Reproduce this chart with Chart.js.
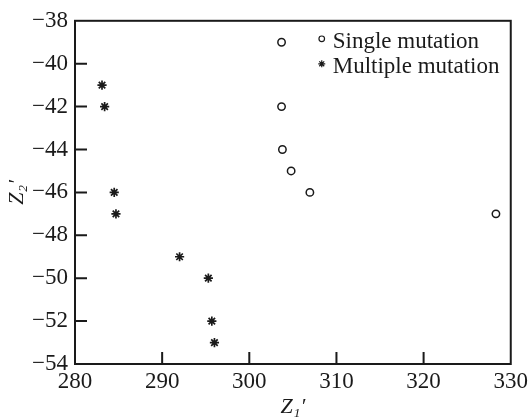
<!DOCTYPE html>
<html>
<head>
<meta charset="utf-8">
<script src="https://cdn.jsdelivr.net/npm/chart.js@4/dist/chart.umd.min.js"></script>
<style>
  html, body { margin: 0; padding: 0; background: #fff; }
  #wrap { width: 532px; height: 418px; }
</style>
</head>
<body>
<div id="wrap"><canvas id="c"></canvas></div>
<script>
// ---- data ----
const singleX = [303.7, 303.7, 303.8, 304.8, 306.95, 328.3];
const singleY = [-39, -42, -44, -45, -46, -47];
const multipleX = [283.1, 283.4, 284.5, 284.7, 292.0, 295.3, 295.7, 296.0];
const multipleY = [-41, -42, -46, -47, -49, -50, -52, -53];
const seriesLabels = ['Single mutation', 'Multiple mutation'];
const xTickValues = [280, 290, 300, 310, 320, 330];
const yTickValues = [-54, -52, -50, -48, -46, -44, -42, -40, -38];
const xTitle = 'Z\u2081\u2032';
const yTitle = 'Z\u2082\u2032';

const FONT = '"Liberation Serif", "Times New Roman", serif';
const INK = '#1a1a1a';

function toPoints(xs, ys) { return xs.map((x, i) => ({ x: x, y: ys[i] })); }

const frameAndTicks = {
  id: 'frameAndTicks',
  afterDraw(chart) {
    const ctx = chart.ctx;
    const a = chart.chartArea;
    const xs = chart.scales.x, ys = chart.scales.y;
    ctx.save();
    ctx.strokeStyle = INK;
    ctx.lineWidth = 2;
    ctx.strokeRect(a.left, a.top, a.right - a.left, a.bottom - a.top);
    const tl = 12;
    ctx.beginPath();
    xTickValues.forEach(v => {
      if (v === xs.min || v === xs.max) return;
      const px = xs.getPixelForValue(v);
      ctx.moveTo(px, a.bottom);
      ctx.lineTo(px, a.bottom - tl);
    });
    yTickValues.forEach(v => {
      if (v === ys.min || v === ys.max) return;
      const py = ys.getPixelForValue(v);
      ctx.moveTo(a.left, py);
      ctx.lineTo(a.left + tl, py);
    });
    ctx.stroke();

    // legend
    const mx = a.right - 189, tx = a.right - 178;
    const rows = [a.top + 18, a.top + 43];
    ctx.font = '23px ' + FONT;
    ctx.fillStyle = INK;
    ctx.textBaseline = 'alphabetic';
    ctx.textAlign = 'left';
    chart.data.datasets.forEach((ds, i) => {
      const cy = rows[i];
      ctx.lineWidth = 1.2;
      ctx.strokeStyle = INK;
      if (ds.pointStyle === 'circle') {
        ctx.beginPath();
        ctx.arc(mx, cy, 2.8, 0, Math.PI * 2);
        ctx.fillStyle = '#fff';
        ctx.fill();
        ctx.stroke();
      } else {
        const r = 3.5;
        ctx.beginPath();
        for (let k = 0; k < 4; k++) {
          const ang = k * Math.PI / 4;
          ctx.moveTo(mx - r * Math.cos(ang), cy - r * Math.sin(ang));
          ctx.lineTo(mx + r * Math.cos(ang), cy + r * Math.sin(ang));
        }
        ctx.stroke();
      }
      ctx.fillStyle = INK;
      ctx.fillText(ds.label, tx, cy + 9);
    });
    ctx.restore();
  }
};

new Chart(document.getElementById('c'), {
  type: 'scatter',
  data: {
    datasets: [
      {
        label: seriesLabels[0],
        data: toPoints(singleX, singleY),
        pointStyle: 'circle',
        pointRadius: 3.7,
        pointBackgroundColor: '#fff',
        pointBorderColor: INK,
        pointBorderWidth: 1.5
      },
      {
        label: seriesLabels[1],
        data: toPoints(multipleX, multipleY),
        pointStyle: 'star',
        pointRadius: 4.6,
        pointBackgroundColor: INK,
        pointBorderColor: INK,
        pointBorderWidth: 1.7
      }
    ]
  },
  options: {
    responsive: true,
    maintainAspectRatio: false,
    animation: false,
    devicePixelRatio: 1,
    layout: { padding: { top: 17, right: 18, left: 0, bottom: 0 } },
    plugins: { legend: { display: false }, tooltip: { enabled: false } },
    scales: {
      x: {
        type: 'linear',
        min: 280, max: 330,
        afterBuildTicks: s => { s.ticks = xTickValues.map(v => ({ value: v })); },
        afterFit: s => { s.height = 54; },
        grid: { display: false, drawTicks: false },
        border: { display: false },
        ticks: { font: { family: FONT, size: 23 }, color: INK, padding: 4, maxRotation: 0, autoSkip: false },
        title: { display: true, text: xTitle, color: INK, font: { family: FONT, size: 22, style: 'italic', lineHeight: 1 }, padding: 0 }
      },
      y: {
        type: 'linear',
        min: -54, max: -38,
        afterBuildTicks: s => { s.ticks = yTickValues.map(v => ({ value: v })); },
        afterFit: s => { s.width = 75; },
        grid: { display: false, drawTicks: false },
        border: { display: false },
        ticks: {
          font: { family: FONT, size: 23 }, color: INK, padding: 7, autoSkip: false,
          callback: v => String(v).replace('-', '\u2212')
        },
        title: { display: true, text: yTitle, color: INK, font: { family: FONT, size: 22, style: 'italic', lineHeight: 1 }, padding: { top: 6, bottom: 0 } }
      }
    }
  },
  plugins: [frameAndTicks]
});
</script>
</body>
</html>
